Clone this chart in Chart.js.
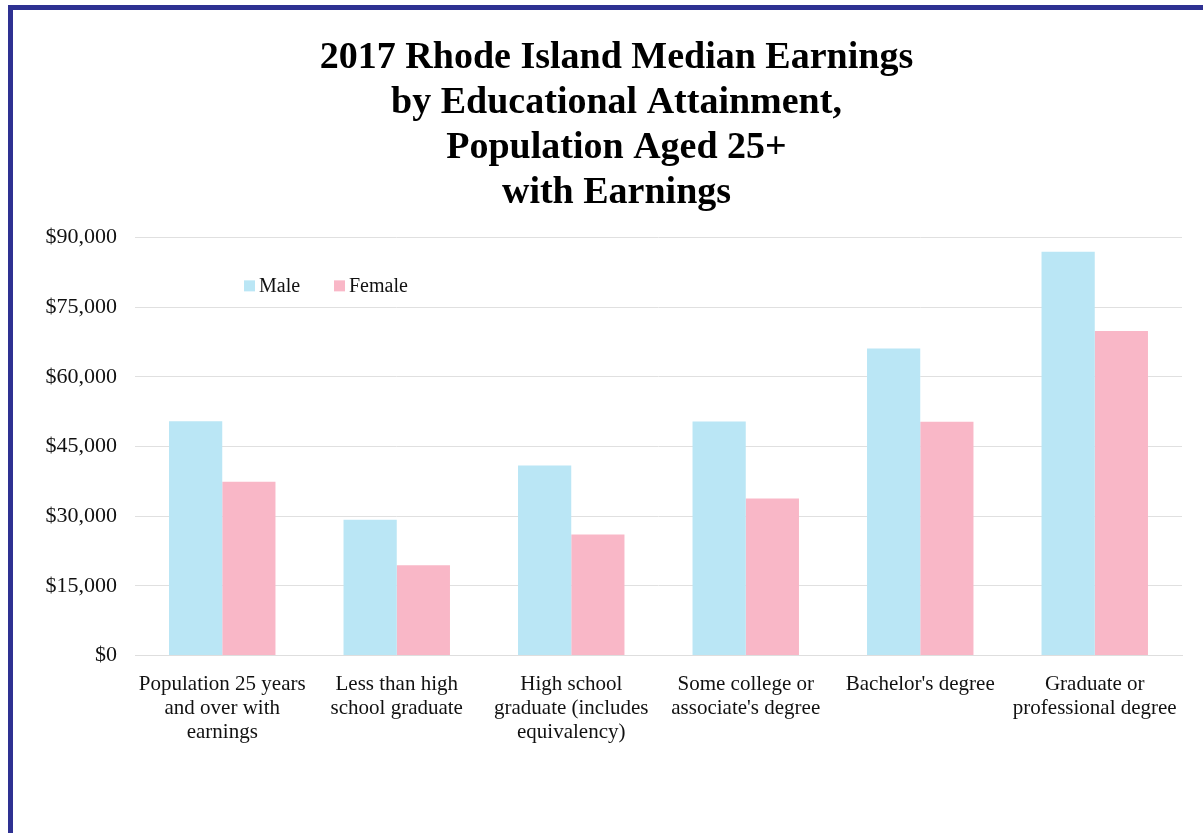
<!DOCTYPE html>
<html>
<head>
<meta charset="utf-8">
<title>2017 Rhode Island Median Earnings</title>
<script src="https://cdn.jsdelivr.net/npm/chart.js@4.4.1/dist/chart.umd.min.js"></script>
<style>
  html, body { margin: 0; padding: 0; background: #fff; overflow: hidden; }
  #frame {
    position: absolute; left: 8px; top: 5px; width: 1300px; height: 900px;
    border-top: 5px solid #2e3192; border-left: 5px solid #2e3192;
  }
  #chart { position: absolute; left: 0; top: 0; }
</style>
</head>
<body>
<div id="frame"></div>
<canvas id="chart" width="1203" height="833"></canvas>
<script>
const categories = [
  ["Population 25 years", "and over with", "earnings"],
  ["Less than high", "school graduate"],
  ["High school", "graduate (includes", "equivalency)"],
  ["Some college or", "associate's degree"],
  ["Bachelor's degree"],
  ["Graduate or", "professional degree"]
];
const maleEarnings = [50450, 29220, 40910, 50380, 66100, 86920];
const femaleEarnings = [37400, 19440, 26050, 33800, 50320, 69830];
const titleLines = [
  "2017 Rhode Island Median Earnings",
  "by Educational Attainment,",
  "Population Aged 25+",
  "with Earnings"
];

const SERIF = "'Liberation Serif', 'Times New Roman', serif";

// legend drawn inside the plot, near its top-left corner;
// also nudges the title a little to the right
const insideLegend = {
  id: "insideLegend",
  afterLayout(chart) {
    chart.titleBlock.left += 8;
    chart.titleBlock.right += 8;
  },
  afterDraw(chart) {
    const { ctx, chartArea } = chart;
    let x = chartArea.left + 109;
    const y = chartArea.top + 49;
    ctx.save();
    ctx.font = "20px " + SERIF;
    ctx.textBaseline = "middle";
    chart.data.datasets.forEach((ds) => {
      ctx.fillStyle = ds.backgroundColor;
      ctx.fillRect(x, y - 6, 11, 11);
      ctx.fillStyle = "#111";
      ctx.fillText(ds.label, x + 15, y);
      x += 90;
    });
    ctx.restore();
  }
};

new Chart(document.getElementById("chart"), {
  type: "bar",
  data: {
    labels: categories,
    datasets: [
      { label: "Male", data: maleEarnings, backgroundColor: "#bae6f5" },
      { label: "Female", data: femaleEarnings, backgroundColor: "#f9b7c7" }
    ]
  },
  options: {
    responsive: false,
    animation: false,
    layout: { padding: { top: 13, left: 35, right: 21, bottom: 79 } },
    datasets: {
      bar: { categoryPercentage: 0.61, barPercentage: 1.0 }
    },
    plugins: {
      legend: { display: false },
      tooltip: { enabled: false },
      title: {
        display: true,
        text: titleLines,
        color: "#000",
        font: { family: SERIF, size: 38, weight: "bold", lineHeight: 1.18 },
        padding: { top: 23, bottom: 22 }
      }
    },
    scales: {
      x: {
        grid: { display: false },
        border: { color: "#dedede" },
        ticks: {
          color: "#111",
          padding: 9,
          maxRotation: 0,
          autoSkip: false,
          font: { family: SERIF, size: 21, lineHeight: 1.15 }
        }
      },
      y: {
        min: 0,
        max: 90000,
        afterFit(scale) { scale.width = 100; },
        border: { display: false },
        grid: { color: "#e0e0e0", drawTicks: false },
        ticks: {
          stepSize: 15000,
          padding: 18,
          color: "#111",
          font: { family: SERIF, size: 22 },
          callback: (value) => "$" + value.toLocaleString("en-US")
        }
      }
    }
  },
  plugins: [insideLegend]
});
</script>
</body>
</html>
